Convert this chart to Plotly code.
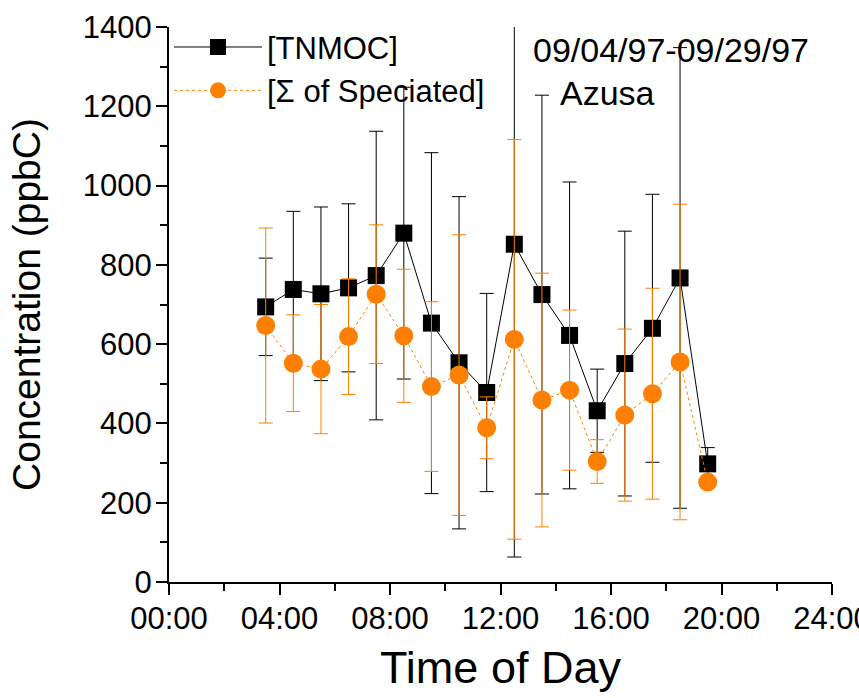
import plotly.graph_objects as go

# Time of day (hours) for each hourly bin
hours = [3.5, 4.5, 5.5, 6.5, 7.5, 8.5, 9.5, 10.5, 11.5, 12.5, 13.5, 14.5, 15.5, 16.5, 17.5, 18.5, 19.5]
# [TNMOC] mean and error (ppbC)
tnmoc = [694, 738, 727, 742, 773, 880, 653, 553, 478, 852, 725, 622, 432, 551, 640, 767, 298]
tnmoc_err = [123, 197, 219, 212, 364, 368, 430, 419, 250, 789, 503, 387, 105, 334, 338, 581, 41]
# [Sum of speciated] mean and error (ppbC)
spec = [647, 552, 537, 619, 726, 621, 493, 522, 389, 612, 459, 484, 304, 421, 475, 555, 252]
spec_err = [246, 122, 163, 146, 175, 168, 214, 354, 78, 504, 320, 202, 55, 217, 266, 398, 8]

x_tickvals = [0, 4, 8, 12, 16, 20, 24]
x_ticktext = ["00:00", "04:00", "08:00", "12:00", "16:00", "20:00", "24:00"]

FONT = "Liberation Sans, Arial, sans-serif"
ORANGE = "#FF8000"

fig = go.Figure()
fig.add_trace(go.Scatter(
    x=hours, y=tnmoc, name="[TNMOC]", mode="lines+markers",
    line=dict(color="black", width=1),
    marker=dict(symbol="square", size=17, color="black"),
    error_y=dict(type="data", array=tnmoc_err, visible=True, color="black", thickness=1, width=7),
))
fig.add_trace(go.Scatter(
    x=hours, y=spec, name="[Σ of Speciated]", mode="lines+markers",
    line=dict(color=ORANGE, width=1, dash="dot"),
    marker=dict(symbol="circle", size=19, color=ORANGE),
    error_y=dict(type="data", array=spec_err, visible=True, color=ORANGE, thickness=1, width=7),
))

fig.add_annotation(text="09/04/97-09/29/97", x=18.17, y=1342, xref="x", yref="y",
                   showarrow=False, font=dict(size=34, color="black", family=FONT))
fig.add_annotation(text="Azusa", x=15.89, y=1234, xref="x", yref="y",
                   showarrow=False, font=dict(size=34, color="black", family=FONT))

fig.update_layout(
    width=859, height=698,
    margin=dict(l=169, r=27, t=27, b=116, autoexpand=False),
    paper_bgcolor="white", plot_bgcolor="white",
    font=dict(family=FONT, color="black"),
    showlegend=True,
    legend=dict(x=0.0, y=1.012, xanchor="left", yanchor="top", bgcolor="rgba(0,0,0,0)",
                font=dict(size=31, family=FONT), itemwidth=88, tracegroupgap=0),
    xaxis=dict(
        range=[0, 24], tickvals=x_tickvals, ticktext=x_ticktext, automargin=False,
        showgrid=False, zeroline=False, showline=True, linecolor="black", linewidth=2,
        ticks="outside", ticklen=11, tickwidth=2, tickcolor="black",
        tickfont=dict(size=31, family=FONT), ticklabeloverflow="allow", ticklabelstandoff=-3,
        minor=dict(tickvals=[2, 6, 10, 14, 18, 22], ticks="outside", ticklen=7, tickwidth=2, tickcolor="black"),
        title=dict(text="Time of Day", font=dict(size=45, family=FONT), standoff=16),
    ),
    yaxis=dict(
        range=[0, 1400], dtick=200, tick0=0, automargin=False,
        showgrid=False, zeroline=False, showline=True, linecolor="black", linewidth=2,
        ticks="outside", ticklen=11, tickwidth=2, tickcolor="black",
        tickfont=dict(size=31, family=FONT), ticklabelstandoff=-2,
        minor=dict(dtick=100, ticks="outside", ticklen=7, tickwidth=2, tickcolor="black"),
        title=dict(text="Concentration (ppbC)", font=dict(size=39, family=FONT), standoff=30),
    ),
)

fig.write_html("out.html")
